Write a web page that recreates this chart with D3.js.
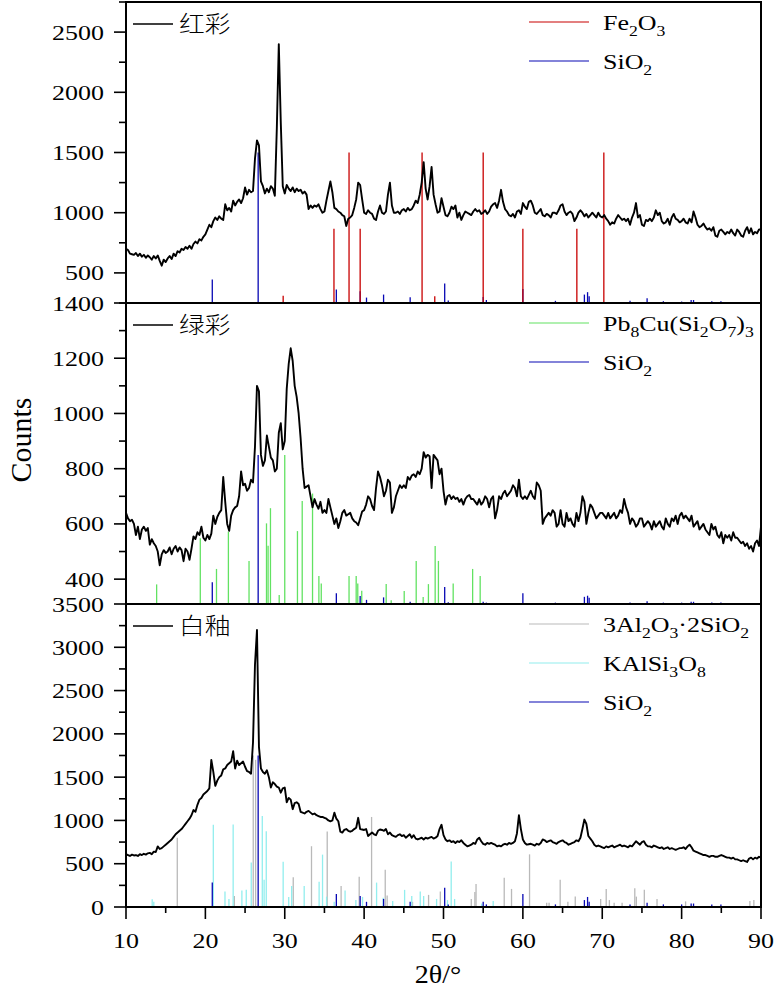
<!DOCTYPE html>
<html><head><meta charset="utf-8">
<script src="https://cdn.jsdelivr.net/npm/d3@7/dist/d3.min.js"></script>
<style>
html,body{margin:0;padding:0;background:#fff;}
svg{display:block;}
</style>
</head><body>
<svg id="chart" width="781" height="996"></svg>
<script>
// ---------------- DATA ----------------
const twoThetaStart = 10, twoThetaStep = 0.25;
const xTicks = [10, 20, 30, 40, 50, 60, 70, 80, 90];

// 红彩 (red glaze) diffraction counts, 0.25° steps from 10° to 90°
const redCounts = [
 700,690,660,655, 650,665,640,660, 635,650,625,645, 630,610,640,620, 645,600,560,610,
 590,620,640,615, 660,640,680,670, 700,690,715,700, 725,700,740,760, 745,780,770,800,
 820,860,900,880, 930,960,940,970, 950,940,1070,1020, 1040,1010,1100,1060, 1090,1110,1080,1120,
 1210,1150,1190,1170, 1180,1450,1600,1560, 1260,1220,1160,1200, 1170,1220,1200,1140, 1700,2400,1750,1220,
 1160,1230,1200,1180, 1210,1170,1200,1180, 1190,1160,1175,1150, 1030,1060,1040,1060, 1050,1070,1030,1000,
 1010,1100,1180,1260, 1170,1040,1030,1010, 1000,980,970,890, 950,960,980,1040, 1110,1250,1230,1110,
 1000,990,1020,1000, 990,950,940,1010, 1060,1000,990,1010, 1150,1250,1060,1000, 1000,1010,990,1020,
 1030,1010,1040,1020, 1030,1060,1100,1080, 1150,1250,1420,1200, 1110,1220,1380,1150, 1070,1000,1010,1120,
 1050,980,970,1000, 1050,1030,1060,960, 1000,940,980,1010, 1000,990,980,1010, 1030,1010,1020,990,
 1000,1020,990,1010, 1050,1070,1080,1040, 1100,1190,1090,1030, 1010,980,970,990, 960,1010,1020,990,
 1080,1050,1030,1090, 1100,1060,1000,990, 1010,1030,980,970, 990,980,960,1000, 1000,990,1020,1060,
 1070,1010,980,1000, 1010,990,930,960, 1000,1020,1000,970, 990,960,980,1000, 980,960,1000,970,
 960,980,950,930, 900,920,910,950, 980,960,940,950, 930,950,900,960, 1000,1080,960,980,
 900,890,940,930, 950,930,960,1020, 980,1000,930,910, 920,950,900,960, 990,950,940,920,
 930,950,920,910, 950,920,1010,960, 900,880,890,910, 880,860,870,850, 880,810,800,850,
 860,840,820,840, 830,860,830,810, 860,840,810,800, 850,880,830,870, 820,840,830,860,
 860
];

// 绿彩 (green glaze)
const greenCounts = [
 640,620,610,615, 600,560,590,545, 580,590,575,585, 525,545,530,520, 500,450,490,505,
 495,500,515,490, 510,520,500,515, 505,465,510,500, 470,510,555,545, 570,560,590,550,
 540,560,545,565, 630,600,625,640, 650,770,680,600, 575,630,650,660, 665,700,790,740,
 745,720,730,760, 750,880,1100,1080, 850,810,830,920, 880,840,830,790, 800,930,965,870,
 900,1090,1180,1236, 1190,1100,1060,1000, 910,800,730,735, 740,700,660,690, 670,655,680,640,
 650,640,690,660, 630,600,620,585, 610,640,650,630, 635,640,620,610, 605,595,620,645,
 650,670,700,690, 665,650,730,790, 770,740,700,720, 760,750,640,660, 700,720,740,730,
 740,730,770,760, 775,780,770,790, 780,800,860,840, 850,845,730,850, 840,830,780,800,
 720,670,700,705, 690,700,690,695, 680,690,670,690, 700,705,690,690, 680,670,690,670,
 680,700,690,660, 690,700,620,650, 700,690,710,720, 700,710,720,740, 730,700,760,700,
 690,700,690,705, 720,700,690,750, 740,720,600,620, 630,640,630,650, 640,590,600,650,
 600,590,640,610, 620,600,590,640, 610,640,700,680, 600,640,670,660, 640,620,630,640,
 640,630,620,640, 620,630,640,620, 630,650,640,690, 660,640,600,620, 610,590,600,620,
 620,590,600,610, 600,580,610,590, 600,610,590,580, 620,600,590,620, 610,630,600,630,
 640,620,630,620, 610,630,590,600, 610,580,590,600, 580,570,560,600, 580,590,560,550,
 570,530,560,550, 560,540,570,550, 550,540,530,535, 520,530,510,520, 500,530,540,520,
 590
];

// 白釉 (white glaze)
const whiteCounts = [
 610,600,590,605, 595,600,590,610, 600,615,605,620, 625,610,640,635, 700,670,680,700,
 720,740,760,780, 810,840,860,880, 900,930,960,990, 1020,1060,1120,1100, 1180,1240,1260,1300,
 1320,1340,1370,1700, 1560,1400,1460,1500, 1520,1590,1600,1640, 1660,1680,1800,1600, 1690,1640,1660,1680,
 1620,1570,1560,1540, 1900,2800,3200,1850, 1600,1560,1540,1580, 1500,1380,1440,1420, 1390,1380,1320,1370,
 1380,1210,1260,1240, 1130,1200,1210,1190, 1100,1090,1080,1100, 1110,1090,1070,1080, 1060,1050,1040,1040,
 1030,1020,1000,990, 1000,1090,1020,990, 870,860,890,900, 880,870,880,900, 915,1030,900,895,
 890,900,820,840, 860,840,830,880, 895,890,880,900, 840,860,830,820, 810,830,840,820,
 830,800,820,840, 800,830,790,780, 790,800,780,800, 790,800,810,790, 800,820,900,950,
 830,780,760,770, 750,760,740,760, 750,770,740,720, 700,710,720,740, 730,780,800,760,
 730,720,740,730, 740,730,720,700, 710,700,720,730, 720,740,730,740, 760,850,1060,900,
 780,740,720,725, 730,720,710,730, 720,740,780,770, 750,760,770,750, 740,730,750,760,
 770,750,740,720, 730,740,750,770, 760,800,900,1010, 960,820,790,760, 720,700,710,700,
 690,680,700,690, 700,710,690,700, 710,720,700,710, 700,690,710,700, 730,760,740,720,
 750,760,720,700, 700,690,710,700, 690,680,690,670, 680,690,670,680, 670,660,670,680,
 680,690,670,700, 720,690,650,640, 630,620,610,600, 600,590,580,590, 590,580,580,590,
 600,590,580,570, 570,560,570,550, 550,540,530,540, 530,520,560,570, 550,570,560,580,
 570
];

// Reference sticks
const fe2o3Pos = [29.8, 36.2, 38.1, 39.5, 47.3, 48.9, 55.0, 60.0, 66.8, 70.2];
const fe2o3Cnt = [310, 867, 1500, 867, 1500, 306, 1500, 867, 867, 1500];

const sio2Pos      = [20.87, 26.65, 36.5, 39.5, 40.3, 42.45, 45.8, 50.15, 50.6, 55.0, 55.4, 60.0, 64.1, 67.75, 68.15, 68.35, 73.5, 75.65, 77.7, 80.0, 81.2, 81.5, 83.8, 84.95];
const sio2CntRed   = [445, 1500, 362, 348, 295, 320, 298, 411, 270, 300, 275, 367, 268, 320, 340, 307, 268, 290, 265, 262, 275, 275, 265, 265];
const sio2CntGreen = [389, 850, 349, 339, 325, 334, 318, 372, 316, 318, 315, 349, 315, 336, 340, 333, 315, 320, 315, 315, 318, 318, 315, 315];
const sio2CntWhite = [283, 1750, 151, 128, 60, 93, 60, 221, 30, 60, 30, 151, 30, 80, 116, 60, 30, 50, 30, 30, 40, 40, 30, 30];

const pbcuPos = [13.86, 19.36, 21.4, 22.9, 25.5, 27.7, 27.9, 28.2, 29.3, 30.0, 31.6, 32.2, 33.5, 34.3, 34.6, 38.1, 39.0, 39.2, 39.7, 42.78, 43.41, 45.05, 46.56, 47.44, 48.1, 48.95, 49.36, 51.22, 53.67, 54.62];
const pbcuCnt = [381, 548, 437, 572, 466, 602, 521, 657, 343, 850, 574, 683, 710, 411, 384, 411, 411, 384, 358, 382, 324, 357, 466, 335, 382, 520, 466, 384, 437, 411];

const kalsiPos = [13.3, 13.5, 21.0, 22.47, 22.97, 23.5, 24.6, 25.15, 25.78, 27.17, 27.4, 27.67, 29.8, 30.5, 30.87, 32.45, 34.33, 34.76, 35.27, 36.23, 37.6, 38.96, 39.8, 41.57, 42.4, 43.6, 45.1, 46.0, 47.07, 47.5, 49.13, 50.5, 50.97, 51.4, 54.8, 56.26];
const kalsiCnt = [90, 60, 950, 178, 93, 953, 190, 198, 515, 1050, 314, 876, 523, 116, 244, 244, 291, 605, 120, 60, 190, 80, 116, 282, 108, 70, 198, 128, 178, 128, 93, 80, 527, 93, 40, 70];

const mullitePos = [16.46, 23.65, 26.03, 26.33, 31.07, 33.37, 35.35, 37.1, 39.38, 40.94, 42.66, 42.9, 46.1, 48.12, 49.6, 53.5, 53.95, 54.1, 57.65, 58.57, 60.84, 63.0, 63.3, 64.7, 65.67, 66.6, 69.8, 70.5, 70.9, 71.5, 72.5, 74.1, 74.3, 75.3, 76.9, 80.5, 88.6, 89.1];
const mulliteCnt = [800, 128, 1750, 1700, 345, 702, 872, 244, 349, 1040, 430, 132, 60, 140, 178, 93, 174, 267, 337, 209, 608, 50, 50, 314, 60, 120, 93, 209, 80, 50, 50, 217, 120, 198, 93, 65, 70, 80];

const redTicks   = [500, 1000, 1500, 2000, 2500];
const greenTicks = [400, 600, 800, 1000, 1200, 1400];
const whiteTicks = [0, 500, 1000, 1500, 2000, 2500, 3000, 3500];

// ---------------- DRAWING ----------------
const svg = d3.select("#chart");
const SERIF = "'Liberation Serif','Times New Roman',serif";
const CJK = "'Noto Sans CJK SC','Noto Sans CJK JP',sans-serif";
const SX = 1.18;
const C = {red:"#c80000", blue:"#0808b4", green:"#62e262", cyan:"#92eeee", gray:"#b9b9b9"};

const x = d3.scaleLinear().domain([10, 90]).range([126, 761]);

const panels = [
  {name:"红彩", counts:redCounts, domain:[250, 2750], range:[303, 2], ticks:redTicks, minor:250,
   sticks:[{pos:sio2Pos, cnt:sio2CntRed, color:C.blue},{pos:fe2o3Pos, cnt:fe2o3Cnt, color:C.red}],
   legend:[{label:[["Fe"],["2","sub"],["O"],["3","sub"]], color:C.red},
           {label:[["SiO"],["2","sub"]], color:C.blue}]},
  {name:"绿彩", counts:greenCounts, domain:[310, 1400], range:[604, 303], ticks:greenTicks, minor:100,
   sticks:[{pos:pbcuPos, cnt:pbcuCnt, color:C.green},{pos:sio2Pos, cnt:sio2CntGreen, color:C.blue}],
   legend:[{label:[["Pb"],["8","sub"],["Cu(Si"],["2","sub"],["O"],["7","sub"],[")"],["3","sub"]], color:C.green},
           {label:[["SiO"],["2","sub"]], color:C.blue}]},
  {name:"白釉", counts:whiteCounts, domain:[0, 3500], range:[907, 604], ticks:whiteTicks, minor:250,
   sticks:[{pos:mullitePos, cnt:mulliteCnt, color:C.gray},{pos:kalsiPos, cnt:kalsiCnt, color:C.cyan},{pos:sio2Pos, cnt:sio2CntWhite, color:C.blue}],
   legend:[{label:[["3Al"],["2","sub"],["O"],["3","sub"],["·2SiO"],["2","sub"]], color:C.gray},
           {label:[["KAlSi"],["3","sub"],["O"],["8","sub"]], color:C.cyan},
           {label:[["SiO"],["2","sub"]], color:C.blue}]}
];

function stretchedText(g, tx, ty, anchor, size, family, sx) {
  const gg = g.append("g").attr("transform", `translate(${tx},${ty}) scale(${sx},1)`);
  return gg.append("text").attr("text-anchor", anchor).attr("font-family", family)
    .attr("font-size", size).attr("fill", "#000");
}

panels.forEach((p, pi) => {
  const y = d3.scaleLinear().domain(p.domain).range(p.range);
  const g = svg.append("g");
  const clipId = "clip" + pi;
  svg.append("clipPath").attr("id", clipId).append("rect")
    .attr("x", 126).attr("y", p.range[1]).attr("width", 635).attr("height", p.range[0] - p.range[1]);
  const plot = g.append("g").attr("clip-path", `url(#${clipId})`);

  // sticks
  p.sticks.forEach(s => {
    plot.append("g").selectAll("line").data(s.pos).join("line")
      .attr("x1", d => x(d)).attr("x2", d => x(d))
      .attr("y1", y(p.domain[0])).attr("y2", (d, i) => y(s.cnt[i]))
      .attr("stroke", s.color).attr("stroke-width", 1.3);
  });

  // diffraction curve
  const line = d3.line().x((d, i) => x(twoThetaStart + i * twoThetaStep)).y(d => y(d));
  plot.append("path").attr("d", line(p.counts)).attr("fill", "none")
    .attr("stroke", "#000").attr("stroke-width", 1.9).attr("stroke-linejoin", "round");

  // y axis ticks
  const majors = p.ticks;
  const minors = d3.range(p.domain[0] - (p.domain[0] % p.minor) , p.domain[1] + 0.1, p.minor)
    .filter(v => v >= p.domain[0] && v <= p.domain[1] && !majors.includes(v));
  g.append("g").selectAll("line").data(minors).join("line")
    .attr("x1", 119).attr("x2", 126).attr("y1", d => y(d)).attr("y2", d => y(d))
    .attr("stroke", "#000").attr("stroke-width", 1.6);
  g.append("g").selectAll("line").data(majors).join("line")
    .attr("x1", 114).attr("x2", 126).attr("y1", d => y(d)).attr("y2", d => y(d))
    .attr("stroke", "#000").attr("stroke-width", 1.6);
  majors.forEach(v => {
    stretchedText(g, 104, y(v) + 7.5, "end", 22, SERIF, SX).text(v);
  });

  // frame bottom line of the panel
  g.append("line").attr("x1", 125).attr("x2", 762).attr("y1", p.range[0]).attr("y2", p.range[0])
    .attr("stroke", "#000").attr("stroke-width", 2);

  // sample legend (top-left)
  const top = p.range[1];
  g.append("line").attr("x1", 133).attr("x2", 173).attr("y1", top + 22).attr("y2", top + 22)
    .attr("stroke", "#000").attr("stroke-width", 1.6);
  stretchedText(g, 179, top + 30, "start", 23, CJK, 1.12).attr("font-weight", 300).text(p.name);

  // phase legend (top-right)
  p.legend.forEach((l, li) => {
    const ly = top + 20 + li * 39;
    g.append("line").attr("x1", 529).attr("x2", 589).attr("y1", ly).attr("y2", ly)
      .attr("stroke", l.color).attr("stroke-width", 1.2);
    const t = stretchedText(g, 603, ly + 8, "start", 22, SERIF, SX);
    let prevSub = false;
    l.label.forEach(part => {
      const isSub = part[1] === "sub";
      const ts = t.append("tspan").text(part[0]);
      if (isSub) ts.attr("font-size", 15);
      ts.attr("dy", isSub ? 6 : (prevSub ? -6 : 0));
      prevSub = isSub;
    });
  });
});

// outer frame: top, left, right
svg.append("line").attr("x1", 125).attr("x2", 762).attr("y1", 2).attr("y2", 2).attr("stroke", "#000").attr("stroke-width", 2);
svg.append("line").attr("x1", 126).attr("x2", 126).attr("y1", 1).attr("y2", 908).attr("stroke", "#000").attr("stroke-width", 2);
svg.append("line").attr("x1", 761).attr("x2", 761).attr("y1", 1).attr("y2", 908).attr("stroke", "#000").attr("stroke-width", 2);

// x axis ticks
const xMinor = [15, 25, 35, 45, 55, 65, 75, 85];
svg.append("g").selectAll("line").data(xMinor).join("line")
  .attr("x1", d => x(d)).attr("x2", d => x(d)).attr("y1", 907).attr("y2", 913)
  .attr("stroke", "#000").attr("stroke-width", 1.6);
svg.append("g").selectAll("line").data(xTicks).join("line")
  .attr("x1", d => x(d)).attr("x2", d => x(d)).attr("y1", 907).attr("y2", 919)
  .attr("stroke", "#000").attr("stroke-width", 1.6);
xTicks.forEach(v => stretchedText(svg, x(v), 948, "middle", 22, SERIF, SX).text(v));

// axis titles
stretchedText(svg, 438, 983, "middle", 26, SERIF, 1.08).text("2θ/°");
svg.append("text").attr("transform", "translate(31,440) rotate(-90)").attr("text-anchor", "middle")
  .attr("font-family", SERIF).attr("font-size", 30).text("Counts");
</script>
</body></html>
